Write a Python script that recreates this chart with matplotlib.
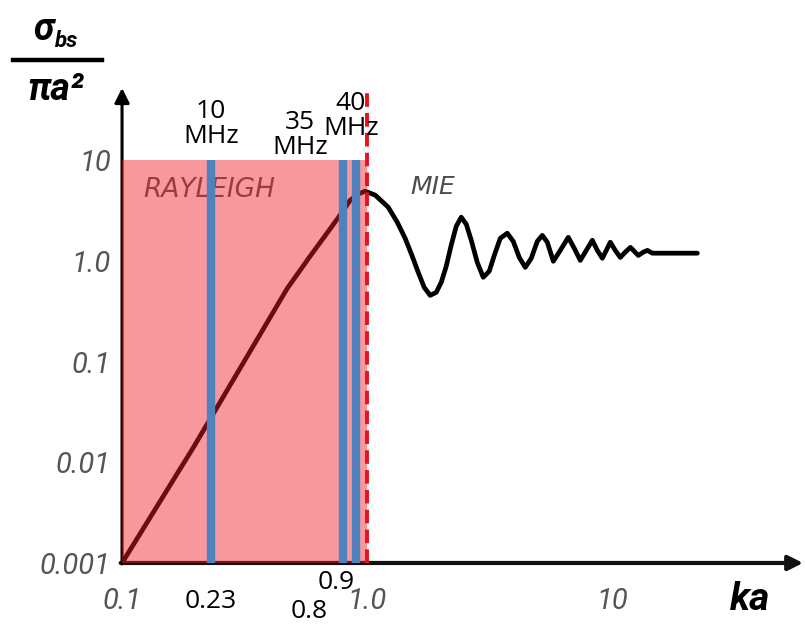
import matplotlib.pyplot as plt
from matplotlib.lines import Line2D

# normalised backscatter cross-section sigma_bs / (pi a^2) against ka
ka = [0.1, 0.195, 0.472, 0.585, 0.681, 0.791, 0.853, 0.918, 0.981,
      1.078, 1.218, 1.326, 1.429, 1.527, 1.615, 1.709, 1.807, 1.913, 2.005,
      2.101, 2.202, 2.308, 2.419, 2.536, 2.658, 2.812, 2.975, 3.148, 3.299,
      3.490, 3.728, 3.944, 4.173, 4.415, 4.671, 4.943, 5.180, 5.429, 5.745,
      6.135, 6.613, 6.996, 7.402, 7.832, 8.286, 8.686, 9.104, 9.452, 9.813,
      10.28, 10.78, 11.30, 11.85, 12.30, 12.77, 13.38, 13.90, 14.57, 15.27,
      22.23]
sigma = [0.001, 0.0139, 0.532, 1.11, 1.84, 3.04, 4.00, 4.59, 4.91,
         4.49, 3.41, 2.42, 1.67, 1.11, 0.769, 0.544, 0.454, 0.486, 0.611,
         0.881, 1.43, 2.20, 2.71, 2.31, 1.60, 0.966, 0.686, 0.788, 1.13,
         1.67, 1.88, 1.56, 1.08, 0.861, 1.06, 1.56, 1.79, 1.53, 0.989,
         1.27, 1.71, 1.33, 1.01, 1.27, 1.60, 1.27, 1.06, 1.27, 1.53,
         1.27, 1.08, 1.22, 1.36, 1.24, 1.13, 1.22, 1.27, 1.19, 1.19,
         1.19]

# Rayleigh region and the ka of each transducer frequency
rayleigh_ka = [0.1, 1.0]
rayleigh_top = 10
freq_ka = [0.23, 0.8, 0.9]
freq_names = ["10\nMHz", "35\nMHz", "40\nMHz"]
freq_ka_labels = ["0.23", "0.8", "0.9"]

x_ticks = [0.1, 1.0, 10]
x_tick_labels = ["0.1", "1.0", "10"]
y_ticks = [0.001, 0.01, 0.1, 1.0, 10]
y_tick_labels = ["0.001", "0.01", "0.1", "1.0", "10"]

# label nudges in points (top label, bottom label)
top_offsets = [(0, 26), (-31, 18), (-3.6, 32)]
bottom_offsets = [(0, -28), (-25, -35), (-14.4, -13.7)]

fig = plt.figure(figsize=(8.05, 6.31), dpi=100)
ax = fig.add_axes([0.1516, 0.1078, 0.846, 0.7528])
ax.set_xscale("log")
ax.set_yscale("log")
ax.set_xlim(0.1, 60)
ax.set_ylim(0.001, 52)

for s in ax.spines.values():
    s.set_visible(False)

# axes drawn as arrows
ax.annotate("", xy=(0, 1), xytext=(0, -0.002), xycoords="axes fraction",
            arrowprops=dict(arrowstyle="-|>", color="black", lw=2.2,
                            mutation_scale=22, shrinkA=0, shrinkB=0), zorder=2.5)
ax.annotate("", xy=(1, 0), xytext=(-0.002, 0), xycoords="axes fraction",
            arrowprops=dict(arrowstyle="-|>", color="#111111", lw=3.0,
                            mutation_scale=22, shrinkA=0, shrinkB=0), zorder=2.5)

ax.plot(ka, sigma, color="black", lw=3.4, solid_joinstyle="round",
        solid_capstyle="round", zorder=2)

ax.text(0.122, 4.3, "RAYLEIGH", ha="left", va="baseline", fontsize=19,
        fontstyle="italic", color="#555555", zorder=2)
ax.text(1.50, 4.59, "MIE", ha="left", va="baseline", fontsize=18,
        fontstyle="italic", color="#4d4d4d", zorder=2)

# translucent red band over the Rayleigh regime
ax.fill_between(rayleigh_ka, 0.001, rayleigh_top, color="#ee1c25", alpha=0.45,
                lw=0, zorder=3)

ax.vlines(freq_ka, 0.001, rayleigh_top, colors="#4f81bd", lw=6, zorder=4)
ax.axvline(1.0, color="#e8101a", lw=2.8, dashes=(3.5, 1.6), zorder=5)

for x, name, lab, (tdx, tdy), (bdx, bdy) in zip(freq_ka, freq_names, freq_ka_labels,
                                                  top_offsets, bottom_offsets):
    ax.annotate(name, xy=(x, rayleigh_top), xytext=(tdx, tdy),
                textcoords="offset points", ha="center", va="center",
                fontsize=19, family=["Open Sans", "DejaVu Sans"],
                linespacing=1.0, annotation_clip=False, zorder=6)
    ax.annotate(lab, xy=(x, 0.001), xytext=(bdx, bdy),
                textcoords="offset points", ha="center", va="center",
                fontsize=19, family=["Open Sans", "DejaVu Sans"],
                annotation_clip=False, zorder=6)

ax.minorticks_off()
ax.set_xticks(x_ticks, x_tick_labels, fontstyle="italic", family="Roboto",
              fontsize=21, color="#555555")
ax.set_yticks(y_ticks, y_tick_labels, fontstyle="italic", family="Roboto",
              fontsize=21, color="#555555")
ax.tick_params(axis="x", length=0, pad=17)
ax.tick_params(axis="y", length=0, pad=8)

# axis titles
fig.text(750 / 805, 1 - 610 / 631, "ka", ha="center", va="baseline", fontsize=28,
         fontweight="bold", fontstyle="italic", family="Roboto")
fig.text(33 / 805, 1 - 40 / 631, "σ", ha="left", va="baseline", fontsize=27,
         fontweight="bold", fontstyle="italic", family="Roboto")
fig.text(55 / 805, 1 - 47 / 631, "bs", ha="left", va="baseline", fontsize=16,
         fontweight="bold", fontstyle="italic", family="Roboto")
fig.add_artist(Line2D([13 / 805, 102 / 805], [1 - 60 / 631, 1 - 60 / 631],
                      color="black", lw=3.2, transform=fig.transFigure))
fig.text(27 / 805, 1 - 100 / 631, "πa²", ha="left", va="baseline", fontsize=27,
         fontweight="bold", fontstyle="italic", family="Roboto")

fig.savefig("out.png", dpi=100)
